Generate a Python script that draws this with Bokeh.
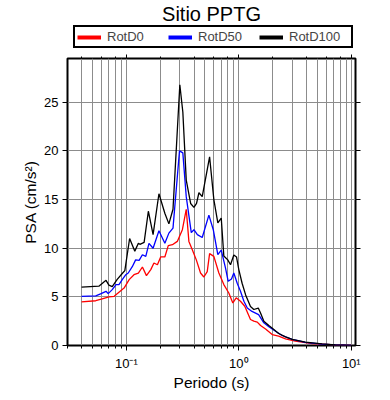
from bokeh.plotting import figure
from bokeh.layouts import column
from bokeh.models import (LogAxis, LinearAxis, LogTicker, FixedTicker, Legend, LegendItem,
                          CustomJSTickFormatter, Range1d)
from bokeh.embed import file_html
from bokeh.resources import INLINE

# ---- data ----
period_d0 = [0.040, 0.0535, 0.061, 0.070, 0.078, 0.086, 0.0955, 0.106, 0.117, 0.128, 0.139, 0.151,
             0.165, 0.176, 0.189, 0.202, 0.220, 0.236, 0.257, 0.284, 0.315, 0.341, 0.360, 0.386,
             0.419, 0.457, 0.489, 0.524, 0.550, 0.600, 0.665, 0.736, 0.815, 0.885, 0.948, 1.035,
             1.13, 1.27, 1.36, 1.46, 1.56, 1.73, 1.98, 2.26, 2.60, 3.18, 4.48, 7.21, 10.0]
psa_d0 = [4.48, 4.6, 4.79, 5.0, 5.06, 5.47, 5.9, 6.77, 7.28, 7.45, 8.07, 7.18,
          7.8, 8.48, 8.3, 9.1, 9.1, 10.26, 10.36, 10.7, 11.9, 14.0, 10.7, 9.85,
          8.8, 7.45, 7.04, 7.6, 9.44, 9.16, 7.45, 6.26, 5.4, 4.38, 4.9, 4.55,
          4.03, 2.67, 2.5, 2.4, 2.05, 1.7, 1.13, 0.96, 0.69, 0.44, 0.2, 0.06, 0.02]

period_d50 = [0.040, 0.0535, 0.059, 0.066, 0.069, 0.075, 0.081, 0.086, 0.092, 0.099, 0.104, 0.113,
              0.121, 0.130, 0.139, 0.149, 0.159, 0.173, 0.195, 0.220, 0.239, 0.260, 0.297, 0.318,
              0.341, 0.378, 0.399, 0.428, 0.473, 0.542, 0.593, 0.651, 0.698, 0.762, 0.805, 0.861,
              0.903, 0.968, 1.035, 1.11, 1.19, 1.31, 1.50, 1.67, 1.85, 2.12, 2.43, 2.98, 3.91,
              5.50, 7.21, 10.0]
psa_d50 = [5.05, 5.1, 5.3, 5.57, 5.33, 5.74, 6.26, 6.26, 6.77, 7.28, 7.45, 8.1,
           8.8, 8.75, 9.33, 9.16, 10.5, 10.0, 11.8, 10.5, 11.55, 12.07, 20.0, 19.8,
           15.3, 11.6, 11.9, 11.4, 11.1, 13.4, 11.9, 9.33, 9.8, 7.95, 6.6, 6.84,
           7.45, 6.4, 5.57, 4.55, 3.86, 3.5, 3.18, 2.33, 1.92, 1.47, 1.03, 0.62, 0.32,
           0.15, 0.06, 0.02]

period_d100 = [0.040, 0.057, 0.066, 0.070, 0.075, 0.083, 0.092, 0.097, 0.107, 0.119, 0.128, 0.132,
               0.144, 0.157, 0.173, 0.195, 0.220, 0.239, 0.260, 0.299, 0.318, 0.341, 0.373, 0.399,
               0.421, 0.442, 0.473, 0.550, 0.600, 0.651, 0.698, 0.736, 0.798, 0.844, 0.903, 0.954,
               1.00, 1.07, 1.15, 1.27, 1.36, 1.49, 1.56, 1.67, 1.85, 2.05, 2.26, 2.60, 2.98, 3.91,
               5.50, 7.21, 10.0]
psa_d100 = [6.0, 6.1, 6.7, 6.2, 6.05, 6.8, 7.4, 7.7, 11.0, 9.7, 10.5, 10.4,
            10.6, 13.8, 11.4, 15.6, 13.6, 12.5, 14.0, 26.8, 24.0, 17.0, 14.6, 14.2,
            14.6, 15.7, 15.3, 19.4, 15.0, 12.6, 13.1, 9.2, 8.8, 8.3, 9.3, 9.1,
            7.8, 6.4, 5.2, 4.0, 3.7, 3.85, 3.35, 2.5, 2.05, 1.64, 1.23, 0.89, 0.62, 0.34,
            0.17, 0.07, 0.02]

series_names = ["RotD0", "RotD50", "RotD100"]
series_colors = ["#ff0000", "#0000ff", "#000000"]

x_tick_values = [0.1, 1, 10]
x_tick_labels = ["10\u207b\u00b9", "10\u2070", "10\u00b9"]
y_ticks = [0, 5, 10, 15, 20, 25]

FONT = "Liberation Sans"
GRID = "#8c8c8c"
data = [(period_d0, psa_d0), (period_d50, psa_d50), (period_d100, psa_d100)]

# ---------- header: title + legend ----------
head = figure(x_axis_type="log", x_range=Range1d(0.03, 10.9), y_range=Range1d(0, 29.5),
              width=390, height=50, output_backend="svg", toolbar_location=None,
              x_axis_location=None, y_axis_location=None,
              min_border_left=67, min_border_right=35, min_border_top=0, min_border_bottom=0,
              title="Sitio PPTG")
head.outline_line_color = None
head.grid.visible = False
head.title.text_font = FONT
head.title.text_font_size = "20px"
head.title.text_font_style = "normal"
head.title.text_color = "black"
head.title.align = "center"
head.title.standoff = 0
head.title.offset = -4

legend_renderers = []
for (xs, ys), c in zip(data, series_colors):
    r = head.line(xs, ys, line_color=c, line_width=4, visible=False)
    legend_renderers.append(r)
items = [LegendItem(label=n, renderers=[r]) for n, r in zip(series_names, legend_renderers)]
legend = Legend(items=items, orientation="horizontal", location=(6, 2),
                label_text_font=FONT, label_text_font_size="13px",
                glyph_width=24, glyph_height=14, label_height=14, label_standoff=6,
                label_width=60, spacing=1, padding=2, margin=0,
                border_line_color="black", border_line_width=2, border_line_alpha=1.0,
                background_fill_color="white", background_fill_alpha=1.0,
                inactive_fill_alpha=0.0, click_policy="none")
head.add_layout(legend)

# ---------- main plot ----------
p = figure(x_axis_type="log", x_range=Range1d(0.03, 10.9), y_range=Range1d(0, 29.5),
           width=390, height=350, output_backend="svg", toolbar_location=None,
           min_border_left=67, min_border_right=35, min_border_top=8, min_border_bottom=55)

p.outline_line_color = "black"
p.outline_line_width = 2

p.xgrid.grid_line_color = GRID
p.xgrid.minor_grid_line_color = GRID
p.ygrid.grid_line_color = GRID
p.ygrid.ticker = FixedTicker(ticks=y_ticks)

fmt_x = CustomJSTickFormatter(args=dict(vals=x_tick_values, labs=x_tick_labels), code="""
let best = 0, bd = 1e9;
for (let i = 0; i < vals.length; i++) {
  const d = Math.abs(Math.log10(tick) - Math.log10(vals[i]));
  if (d < bd) { bd = d; best = i; }
}
return bd < 1e-6 ? labs[best] : "";
""")

def style_axis(ax):
    ax.axis_line_color = None
    ax.major_tick_line_color = "black"
    ax.minor_tick_line_color = "black"
    ax.major_tick_in = 0
    ax.minor_tick_in = 0
    ax.major_label_text_font = FONT
    ax.major_label_text_color = "black"
    ax.axis_label_text_font = FONT
    ax.axis_label_text_font_style = "normal"
    ax.axis_label_text_color = "black"

xa = p.xaxis[0]
style_axis(xa)
xa.formatter = fmt_x
xa.major_tick_out = 5
xa.minor_tick_out = 3
xa.major_label_text_font_size = "13px"
xa.major_label_standoff = 5
xa.axis_label = "Periodo (s)"
xa.axis_label_text_font_size = "15.5px"
xa.axis_label_standoff = 0

ya = p.yaxis[0]
style_axis(ya)
ya.ticker = FixedTicker(ticks=y_ticks)
ya.major_tick_out = 5
ya.minor_tick_line_color = None
ya.major_label_text_font_size = "13px"
ya.major_label_standoff = 4
ya.axis_label = "PSA (cm/s\u00b2)"
ya.axis_label_text_font_size = "15.5px"
ya.axis_label_standoff = 2

top = LogAxis(ticker=LogTicker())
style_axis(top)
top.major_tick_out = 4
top.minor_tick_out = 2
top.major_label_text_color = None
top.major_label_text_font_size = "2px"
top.major_label_standoff = 0
p.add_layout(top, "above")

right = LinearAxis(ticker=FixedTicker(ticks=y_ticks))
style_axis(right)
right.major_tick_out = 5
right.minor_tick_line_color = None
right.major_label_text_color = None
right.major_label_text_font_size = "8px"
right.major_label_standoff = 0
p.add_layout(right, "right")

for (xs, ys), c in zip(data, series_colors):
    p.line(xs, ys, line_color=c, line_width=1.3)

layout = column(head, p, spacing=0)
open("out.html", "w").write(file_html(layout, INLINE))
